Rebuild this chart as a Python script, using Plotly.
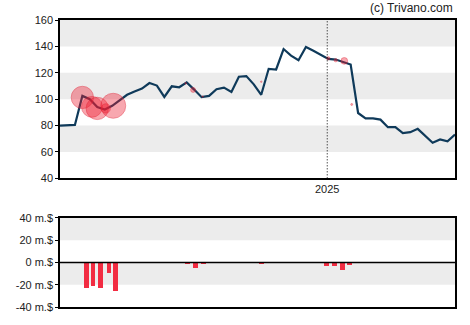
import pandas as pd
import plotly.graph_objects as go

# ---- data ----
line_dates = pd.date_range("2024-04-25", periods=54, freq="7D")
line_values = [80, 80.2, 80.5, 102.5, 100, 94, 92.2, 95, 99, 103.3,
               105.8, 108, 112.2, 110.3, 101.7, 109.75, 109, 112.75, 107.25, 101.5,
               102.5, 107.5, 108.75, 105.5, 117, 117.5, 111.25, 103.3, 123, 122.5,
               138, 133, 129.5, 139.5, 136.75, 133.75, 130.5, 130, 128, 126.25,
               89.5, 85.5, 85.5, 84.5, 78.75, 78.75, 74.25, 75, 77.5, 72,
               67, 69.5, 68, 73.25]

trade_dates = ["2024-05-16", "2024-05-25", "2024-05-30", "2024-06-07", "2024-06-14",
               "2024-08-21", "2024-08-28", "2024-09-06", "2024-10-31",
               "2025-01-02", "2025-01-09", "2025-01-17", "2025-01-24"]
trade_prices = [101.3, 94.2, 93, 93, 95, 112, 107, 102, 113.25, 131, 129.5, 129, 96]
bar_dates = ["2024-05-20", "2024-05-26", "2024-06-02", "2024-06-10", "2024-06-16",
             "2024-08-23", "2024-08-30", "2024-09-07", "2024-10-31",
             "2024-12-31", "2025-01-08", "2025-01-15", "2025-01-22"]
trade_amounts = [-22.8, -21.3, -22.8, -9.5, -25.5, -1.5, -5, -1.3, -1.5,
                 -3.3, -3.3, -6.8, -2]

price_ticks = [40, 60, 80, 100, 120, 140, 160]
amount_ticks = [-40, -20, 0, 20, 40]
amount_labels = ["-40 m.$", "-20 m.$", "0 m.$", "20 m.$", "40 m.$"]
x_range = ["2024-04-25", "2025-05-01"]

# ---- figure ----
fig = go.Figure()
fig.add_trace(go.Scatter(
    x=line_dates, y=line_values, mode="lines",
    line=dict(color="#0f3a5a", width=2.2), xaxis="x", yaxis="y",
    hoverinfo="skip"))
fig.add_trace(go.Scatter(
    x=trade_dates, y=trade_prices, mode="markers",
    marker=dict(size=[abs(a) * 0.98 for a in trade_amounts], sizemode="diameter",
                color="rgba(238,30,50,0.55)",
                line=dict(color="rgba(225,30,50,0.6)", width=1)),
    xaxis="x", yaxis="y", hoverinfo="skip"))
fig.add_trace(go.Bar(
    x=bar_dates, y=trade_amounts, width=4.5 * 86400000,
    marker=dict(color="#f22c42", line=dict(width=0)),
    xaxis="x2", yaxis="y2", hoverinfo="skip"))

shapes = []
# gray bands main
for lo, hi in [(140, 160), (100, 120), (60, 80)]:
    shapes.append(dict(type="rect", xref="x domain", yref="y", x0=0, x1=1, y0=lo, y1=hi,
                       fillcolor="#ececec", line=dict(width=0), layer="below"))
for lo, hi in [(20, 40), (-20, 0)]:
    shapes.append(dict(type="rect", xref="x2 domain", yref="y2", x0=0, x1=1, y0=lo, y1=hi,
                       fillcolor="#ececec", line=dict(width=0), layer="below"))
# 2025 dotted line
shapes.append(dict(type="line", xref="x", yref="y domain", x0="2025-01-01", x1="2025-01-01",
                   y0=0, y1=1, line=dict(color="black", width=1, dash="1px,2px")))
# zero line
shapes.append(dict(type="line", xref="x2 domain", yref="y2", x0=0, x1=1, y0=0, y1=0,
                   line=dict(color="black", width=1.5)))

axis_font = dict(family="Liberation Sans, Arial", size=11, color="#222")
fig.update_layout(
    width=470, height=325,
    margin=dict(l=60, r=15, t=20, b=15),
    paper_bgcolor="white", plot_bgcolor="white",
    showlegend=False,
    shapes=shapes,
    bargap=0,
    xaxis=dict(domain=[0, 1], range=x_range, type="date",
               tickvals=["2025-01-01"], ticktext=["2025"], ticks="",
               showgrid=False, zeroline=False, showline=True, linecolor="black",
               linewidth=1.5, mirror=True, tickfont=axis_font, anchor="y"),
    yaxis=dict(domain=[0.4483, 1], range=[40, 160], tickvals=price_ticks,
               ticks="outside", ticklen=3, tickcolor="black",
               showgrid=False, zeroline=False, showline=True, linecolor="black",
               linewidth=1.5, mirror=True, tickfont=axis_font, anchor="x"),
    xaxis2=dict(domain=[0, 1], range=x_range, type="date", matches="x",
                showticklabels=False, ticks="", showgrid=False, zeroline=False,
                showline=True, linecolor="black", linewidth=1.5, mirror=True,
                anchor="y2"),
    yaxis2=dict(domain=[0, 0.3103], range=[-40, 40], tickvals=amount_ticks,
                ticktext=amount_labels, ticks="outside", ticklen=3, tickcolor="black",
                showgrid=False, zeroline=False, showline=True, linecolor="black",
                linewidth=1.5, mirror=True, tickfont=axis_font, anchor="x2"),
    annotations=[dict(text="(c) Trivano.com", xref="paper", yref="paper",
                      x=1, y=1, xanchor="right", yanchor="bottom", yshift=3,
                      showarrow=False,
                      font=dict(family="Liberation Sans, Arial", size=12, color="#222"))],
)

fig.write_html("out.html")
